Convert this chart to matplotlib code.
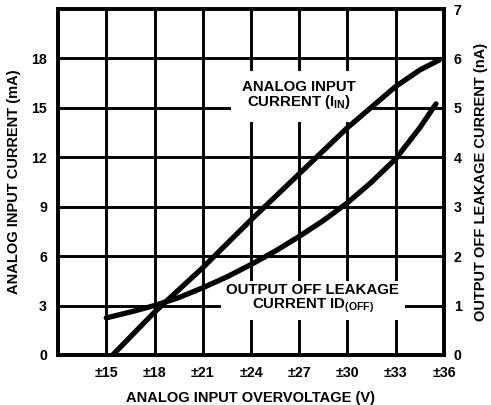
import matplotlib
matplotlib.use("Agg")
import matplotlib.pyplot as plt

# ---- data ----
x_ticks = [15, 18, 21, 24, 27, 30, 33, 36]
x_tick_labels = ["±15", "±18", "±21", "±24", "±27", "±30", "±33", "±36"]
left_ticks = [0, 3, 6, 9, 12, 15, 18]
right_ticks = [0, 1, 2, 3, 4, 5, 6, 7]

iin_v = [15.4, 18, 21, 24, 27, 30, 33, 34.5, 35.7]
iin_ma = [0.0, 2.6, 5.3, 8.2, 11.0, 13.8, 16.3, 17.3, 17.9]

idoff_v = [15, 16.5, 18, 19.5, 21, 22.5, 24, 25.5, 27, 28.5, 30, 31.5, 33, 34.5, 35.5]
idoff_na = [0.75, 0.87, 1.0, 1.16, 1.36, 1.58, 1.83, 2.1, 2.4, 2.72, 3.08, 3.5, 3.97, 4.6, 5.08]

plt.rcParams['font.family'] = ['Liberation Sans', 'DejaVu Sans']
plt.rcParams['font.weight'] = 'bold'
plt.rcParams['mathtext.fontset'] = 'custom'
plt.rcParams['mathtext.bf'] = 'Liberation Sans:bold'
plt.rcParams['mathtext.rm'] = 'Liberation Sans:bold'
plt.rcParams['mathtext.default'] = 'bf'

fig = plt.figure(figsize=(4.91, 4.05), dpi=100)
ax = fig.add_axes([58/491, 1-355/405, (444-58)/491, (355-9)/405])
ax2 = ax.twinx()

ax.set_xlim(12, 36)
ax.set_ylim(0, 21)
ax2.set_ylim(0, 7)

# grid
for v in x_ticks[:-1]:
    ax.axvline(v, color='black', lw=2.1, zorder=1)
for v in left_ticks[1:]:
    ax.axhline(v, color='black', lw=2.1, zorder=1)

# curves
ax.plot(iin_v, iin_ma, color='black', lw=3.8, zorder=5, solid_capstyle='round')
ax.plot(idoff_v, idoff_na, color='black', lw=3.8, zorder=5, solid_capstyle='round',
        transform=ax2.transData)

# annotations
ax.text(27.0, 15.75, "ANALOG INPUT\nCURRENT (I$_{IN}$)", ha='center', va='center',
        multialignment='center', fontsize=10.8, fontweight='bold', linespacing=0.95,
        zorder=3, bbox=dict(facecolor='white', edgecolor='none', pad=8))
ax.text(27.85, 3.4, "OUTPUT OFF LEAKAGE\nCURRENT ID$_{(OFF)}$", ha='center', va='center',
        multialignment='center', fontsize=10.8, fontweight='bold', linespacing=0.95,
        zorder=3, bbox=dict(facecolor='white', edgecolor='none', pad=4))

ax.set_xticks(x_ticks)
ax.set_xticklabels(x_tick_labels)
ax.set_yticks(left_ticks)
ax2.set_yticks(right_ticks)

for a in (ax, ax2):
    a.tick_params(length=0, labelsize=10.2)
    for s in a.spines.values():
        s.set_linewidth(2.6)
ax.tick_params(axis='x', pad=8)
ax.tick_params(axis='y', pad=8)
ax2.tick_params(axis='y', pad=7)

ax.set_xlabel("ANALOG INPUT OVERVOLTAGE (V)", fontsize=10.5, fontweight='bold', labelpad=8)
ax.set_ylabel("ANALOG INPUT CURRENT (mA)", fontsize=10.5, fontweight='bold', labelpad=7)
ax2.set_ylabel("OUTPUT OFF LEAKAGE CURRENT (nA)", fontsize=10.5, fontweight='bold', labelpad=9)

fig.savefig("out.png", dpi=100)
